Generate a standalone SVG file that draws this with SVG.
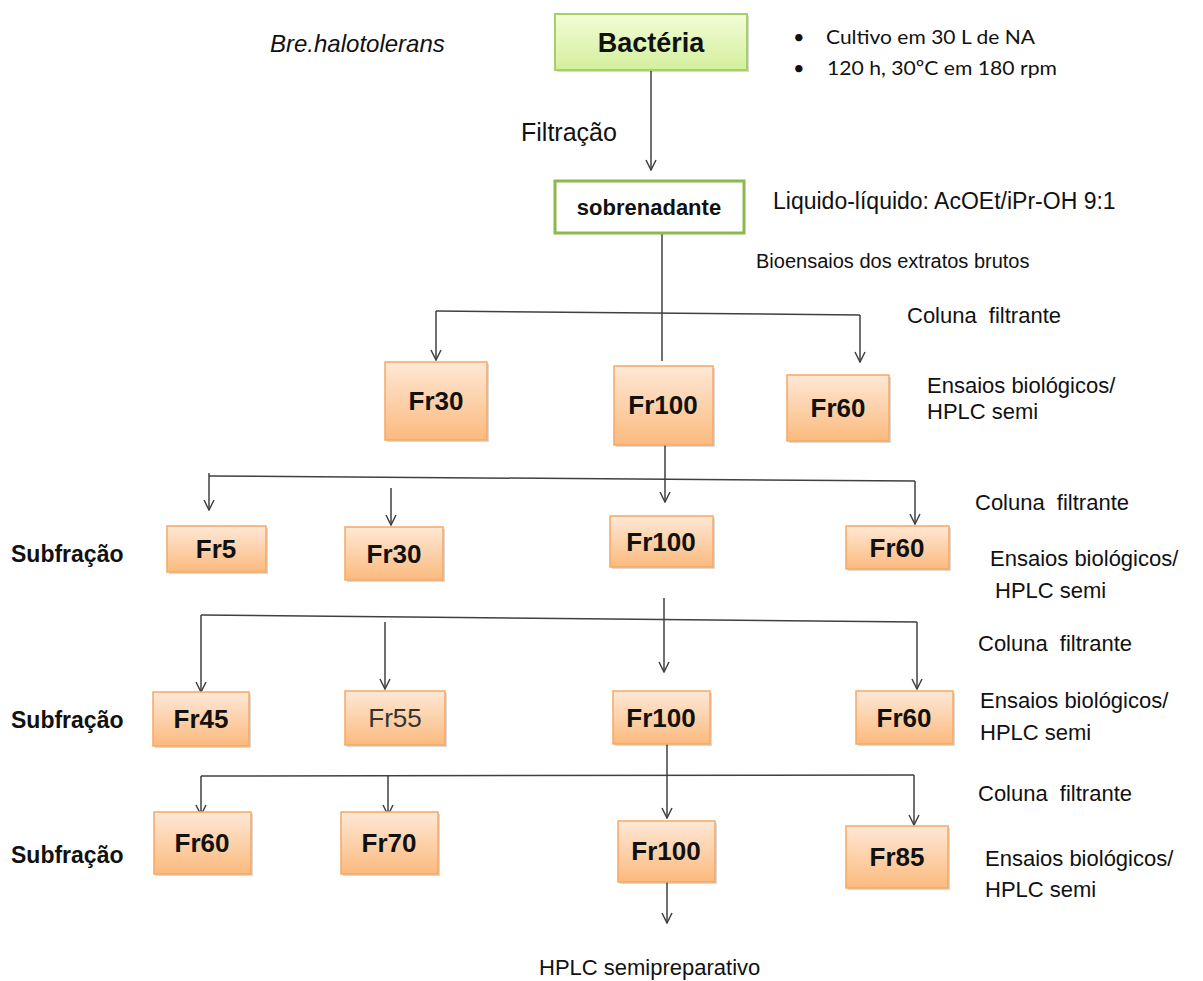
<svg xmlns="http://www.w3.org/2000/svg" width="1203" height="981" viewBox="0 0 1203 981">
<defs>
<linearGradient id="gGreen" x1="0" y1="0" x2="0" y2="1"><stop offset="0" stop-color="#f3fcd8"/><stop offset="1" stop-color="#d3ef9c"/></linearGradient>
<linearGradient id="gOrange" x1="0" y1="0" x2="0" y2="1"><stop offset="0" stop-color="#fee8d6"/><stop offset="1" stop-color="#fbba7e"/></linearGradient>
<marker id="arr" viewBox="-11 -6 12 12" refX="0" refY="0" markerWidth="12" markerHeight="12" markerUnits="userSpaceOnUse" orient="auto">
<path d="M-10,-5 L0,0 L-10,5" fill="none" stroke="#404040" stroke-width="1.5"/>
</marker>
<style>
.t{font-family:"Liberation Sans",Arial,sans-serif;fill:#111}
.fr{font-family:"Liberation Sans",Arial,sans-serif;font-weight:bold;font-size:26px;fill:#111;text-anchor:middle}
.frn{font-family:"Liberation Sans",Arial,sans-serif;font-weight:normal;font-size:26px;fill:#333;text-anchor:middle}
.box{fill:url(#gOrange);stroke:#f7a863;stroke-width:1.5}
.sh{fill:#000;opacity:0.15}
.c{fill:none;stroke:#404040;stroke-width:1.5}
.ca{fill:none;stroke:#404040;stroke-width:1.5;marker-end:url(#arr)}
.lbl{font-family:"Liberation Sans",Arial,sans-serif;font-size:22px;fill:#111}
.sub{font-family:"Liberation Sans",Arial,sans-serif;font-size:23px;font-weight:bold;fill:#111}
.cal{font-family:Lato,"Open Sans",sans-serif;font-size:20px;fill:#111}
</style>
</defs>
<rect width="1203" height="981" fill="#fff"/>

<g id="connectors">
<line class="ca" x1="651" y1="70" x2="651" y2="170"/>
<line class="c" x1="662" y1="234" x2="662" y2="361"/>
<line class="c" x1="436" y1="311" x2="860" y2="315"/>
<line class="ca" x1="436" y1="311" x2="436" y2="360"/>
<line class="ca" x1="860" y1="315" x2="860" y2="362"/>

<line class="ca" x1="665" y1="445" x2="665" y2="502"/>
<line class="c" x1="209" y1="476" x2="915" y2="481"/>
<line class="ca" x1="209" y1="473" x2="209" y2="510"/>
<line class="ca" x1="391" y1="488" x2="391" y2="525"/>
<line class="ca" x1="915" y1="481" x2="915" y2="524"/>

<line class="ca" x1="664" y1="598" x2="664" y2="672"/>
<line class="c" x1="201" y1="615" x2="917" y2="622"/>
<line class="ca" x1="201" y1="615" x2="201" y2="692"/>
<line class="ca" x1="385" y1="622" x2="385" y2="689"/>
<line class="ca" x1="917" y1="622" x2="917" y2="689"/>

<line class="ca" x1="667" y1="744" x2="667" y2="818"/>
<line class="c" x1="201" y1="776" x2="914" y2="775"/>
<line class="ca" x1="201" y1="776" x2="201" y2="815"/>
<line class="ca" x1="388" y1="776" x2="388" y2="815"/>
<line class="ca" x1="914" y1="775" x2="914" y2="825"/>
<line class="ca" x1="667" y1="882" x2="667" y2="923"/>
</g>

<g id="bacteria">
<rect x="557" y="16" width="192" height="56" class="sh"/>
<rect x="555" y="14" width="192" height="56" fill="url(#gGreen)" stroke="#a6cf6a" stroke-width="2"/>
<text x="651" y="52" class="t" font-size="27" font-weight="bold" text-anchor="middle">Bactéria</text>
</g>
<g id="sobrenadante">
<rect x="555" y="181" width="189" height="52" fill="#fff" stroke="#8cb84c" stroke-width="3"/>
<text x="649" y="215" class="t" font-size="22" font-weight="bold" text-anchor="middle">sobrenadante</text>
</g>

<g id="r1-fr30"><rect x="387" y="364" width="102" height="78" class="sh"/><rect x="385" y="362" width="102" height="78" class="box"/><text x="436" y="410" class="fr">Fr30</text></g>
<g id="r1-fr100"><rect x="616" y="368" width="99" height="79" class="sh"/><rect x="614" y="366" width="99" height="79" class="box"/><text x="663" y="414" class="fr">Fr100</text></g>
<g id="r1-fr60"><rect x="789" y="377" width="102" height="66" class="sh"/><rect x="787" y="375" width="102" height="66" class="box"/><text x="838" y="417" class="fr">Fr60</text></g>

<g id="r2-fr5"><rect x="169" y="528" width="99" height="46" class="sh"/><rect x="167" y="526" width="99" height="46" class="box"/><text x="216" y="558" class="fr">Fr5</text></g>
<g id="r2-fr30"><rect x="347" y="529" width="98" height="53" class="sh"/><rect x="345" y="527" width="98" height="53" class="box"/><text x="394" y="563" class="fr">Fr30</text></g>
<g id="r2-fr100"><rect x="612" y="518" width="103" height="51" class="sh"/><rect x="610" y="516" width="103" height="51" class="box"/><text x="661" y="551" class="fr">Fr100</text></g>
<g id="r2-fr60"><rect x="848" y="528" width="103" height="43" class="sh"/><rect x="846" y="526" width="103" height="43" class="box"/><text x="897" y="557" class="fr">Fr60</text></g>

<g id="r3-fr45"><rect x="155" y="694" width="96" height="54" class="sh"/><rect x="153" y="692" width="96" height="54" class="box"/><text x="201" y="728" class="fr">Fr45</text></g>
<g id="r3-fr55"><rect x="347" y="693" width="100" height="54" class="sh"/><rect x="345" y="691" width="100" height="54" class="box"/><text x="395" y="727" class="frn">Fr55</text></g>
<g id="r3-fr100"><rect x="615" y="693" width="97" height="53" class="sh"/><rect x="613" y="691" width="97" height="53" class="box"/><text x="661" y="727" class="fr">Fr100</text></g>
<g id="r3-fr60"><rect x="858" y="693" width="97" height="53" class="sh"/><rect x="856" y="691" width="97" height="53" class="box"/><text x="904" y="727" class="fr">Fr60</text></g>

<g id="r4-fr60"><rect x="156" y="814" width="97" height="62" class="sh"/><rect x="154" y="812" width="97" height="62" class="box"/><text x="202" y="852" class="fr">Fr60</text></g>
<g id="r4-fr70"><rect x="343" y="814" width="97" height="62" class="sh"/><rect x="341" y="812" width="97" height="62" class="box"/><text x="389" y="852" class="fr">Fr70</text></g>
<g id="r4-fr100"><rect x="620" y="823" width="97" height="61" class="sh"/><rect x="618" y="821" width="97" height="61" class="box"/><text x="666" y="860" class="fr">Fr100</text></g>
<g id="r4-fr85"><rect x="848" y="828" width="102" height="62" class="sh"/><rect x="846" y="826" width="102" height="62" class="box"/><text x="897" y="866" class="fr">Fr85</text></g>

<g id="labels">
<text x="270" y="52" class="t" font-size="24" font-style="italic">Bre.halotolerans</text>
<text x="793" y="44" class="cal">•</text>
<text x="826" y="44" class="cal" textLength="209" lengthAdjust="spacingAndGlyphs">Cultivo em 30 L de NA</text>
<text x="793" y="75" class="cal">•</text>
<text x="827" y="75" class="cal" textLength="230" lengthAdjust="spacingAndGlyphs">120 h, 30ºC em 180 rpm</text>
<text x="521" y="141" class="t" font-size="25">Filtração</text>
<text x="773" y="209" class="t" font-size="23">Liquido-líquido: AcOEt/iPr-OH 9:1</text>
<text x="756" y="268" class="t" font-size="20">Bioensaios dos extratos brutos</text>

<text x="907" y="323" class="lbl" word-spacing="6">Coluna filtrante</text>
<text x="927" y="393" class="lbl" font-size="23">Ensaios biológicos/</text>
<text x="927" y="419" class="lbl">HPLC semi</text>

<text x="975" y="510" class="lbl" word-spacing="6">Coluna filtrante</text>
<text x="990" y="566" class="lbl" font-size="23">Ensaios biológicos/</text>
<text x="995" y="598" class="lbl">HPLC semi</text>
<text x="11" y="562" class="sub">Subfração</text>

<text x="978" y="651" class="lbl" word-spacing="6">Coluna filtrante</text>
<text x="980" y="708" class="lbl" font-size="23">Ensaios biológicos/</text>
<text x="980" y="740" class="lbl">HPLC semi</text>
<text x="11" y="728" class="sub">Subfração</text>

<text x="978" y="801" class="lbl" word-spacing="6">Coluna filtrante</text>
<text x="985" y="866" class="lbl" font-size="23">Ensaios biológicos/</text>
<text x="985" y="897" class="lbl">HPLC semi</text>
<text x="11" y="863" class="sub">Subfração</text>

<text x="539" y="975" class="lbl">HPLC semipreparativo</text>
</g>
</svg>
